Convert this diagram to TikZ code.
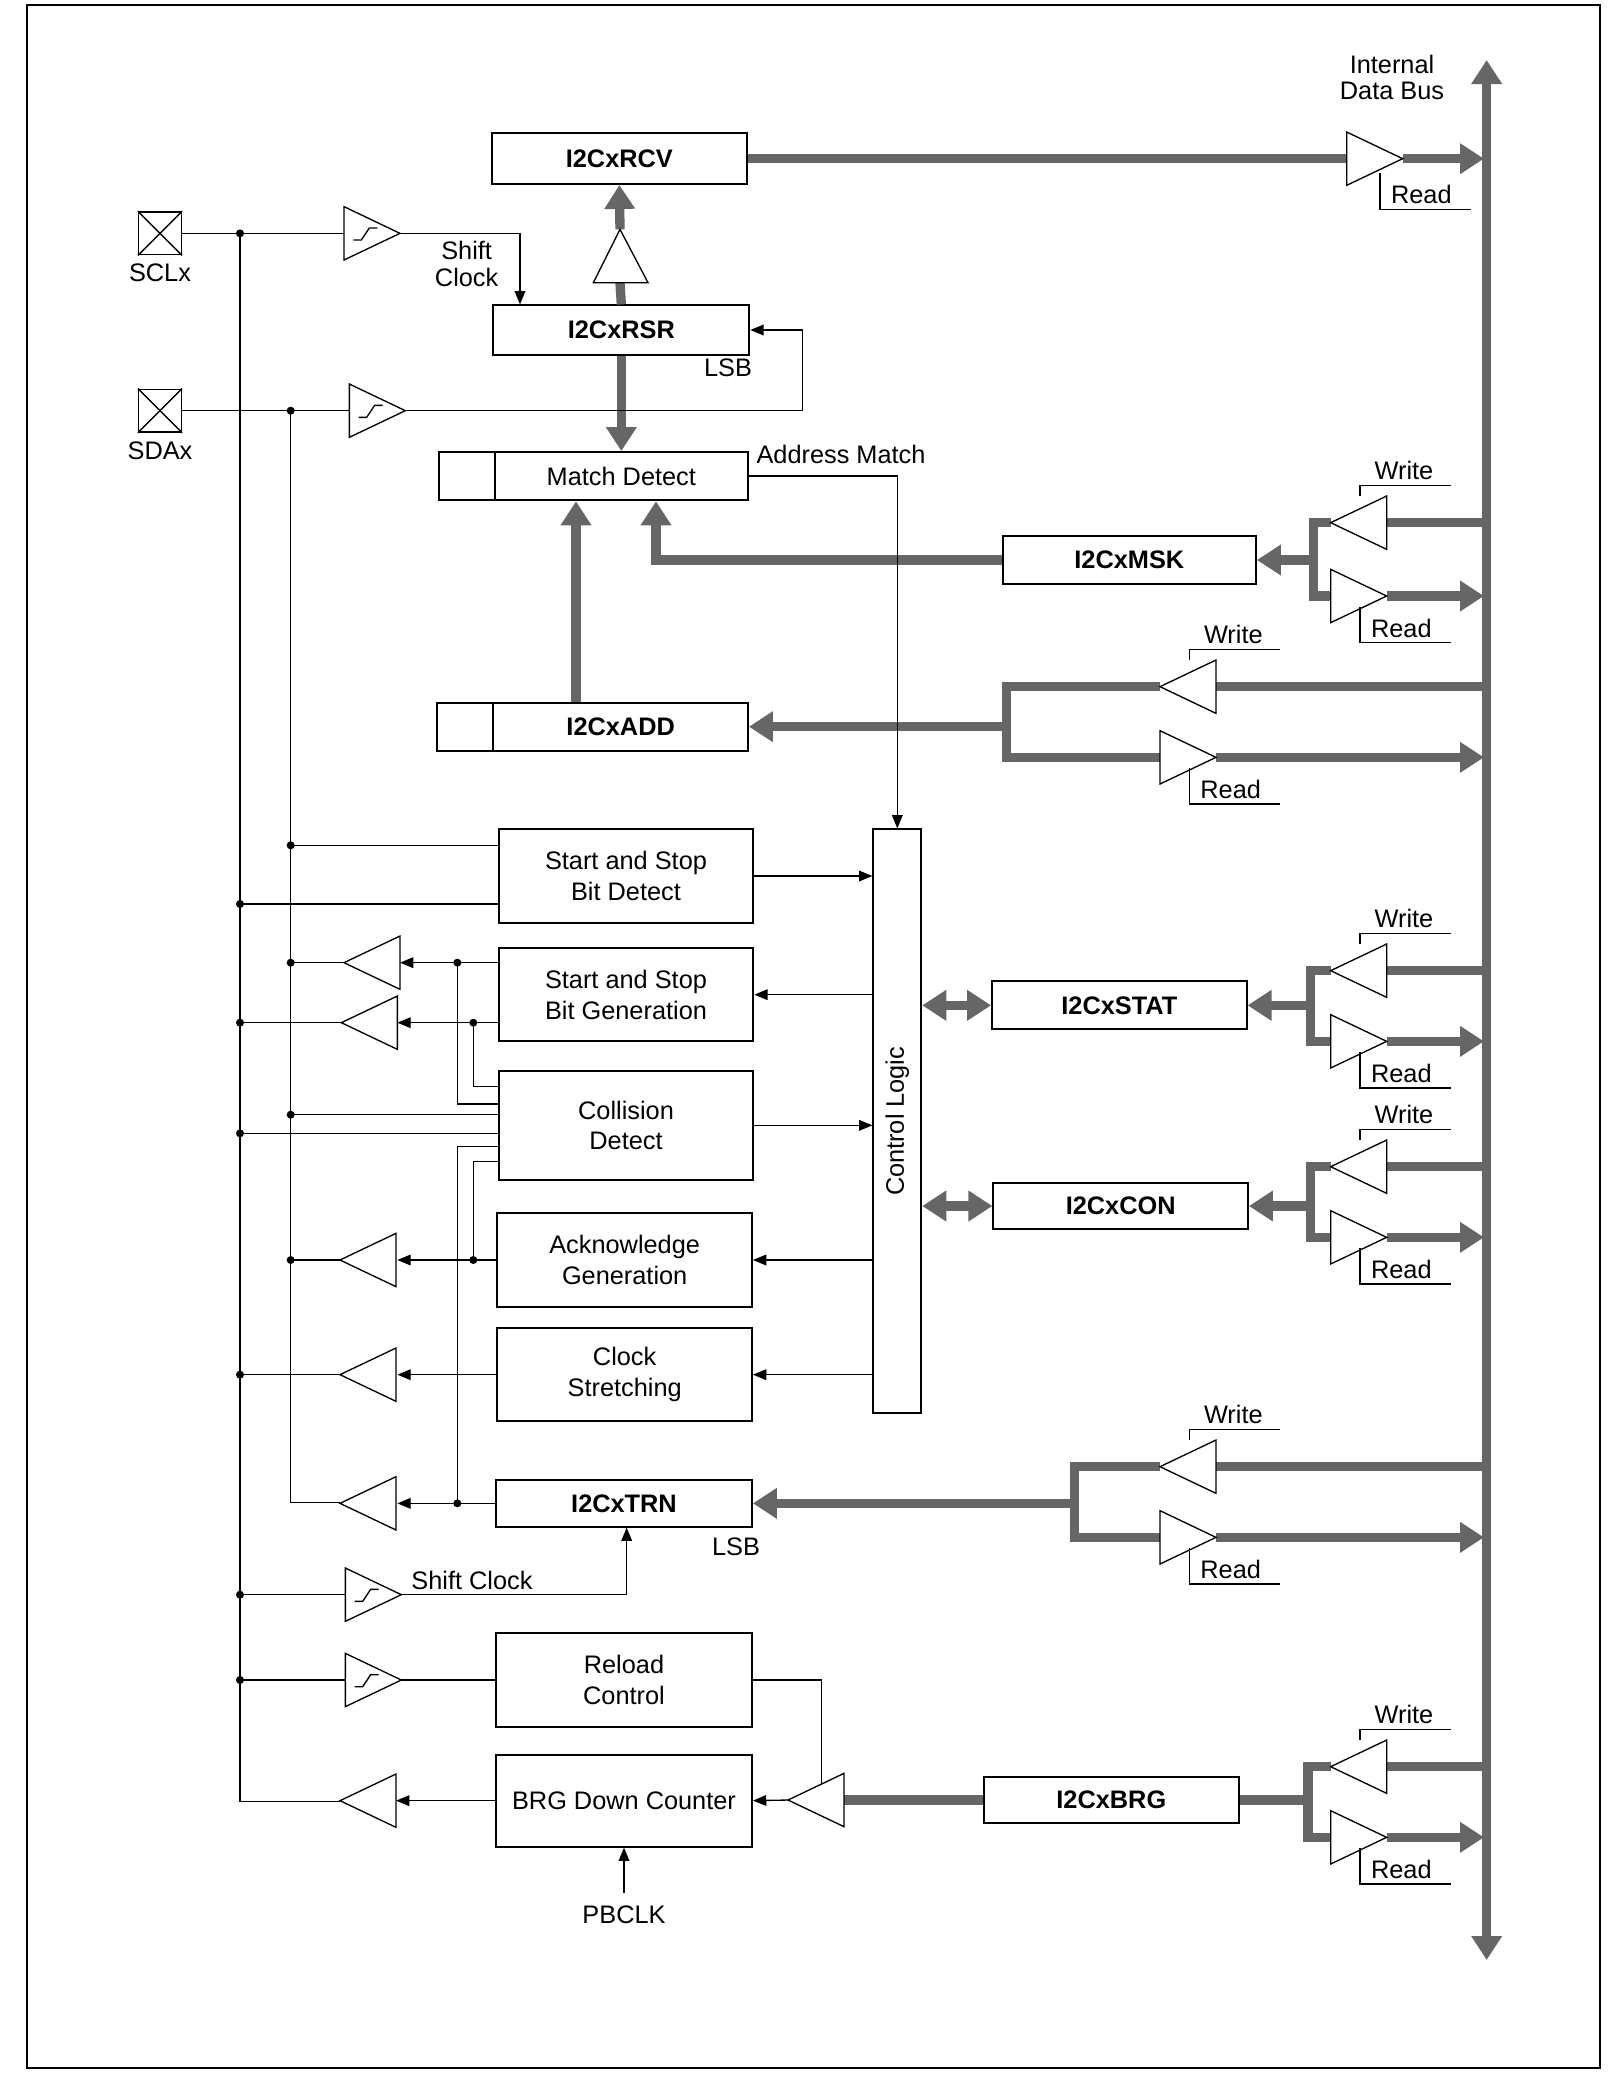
\documentclass[tikz,border=0pt]{standalone}
\usepackage{fontspec}
\setmainfont{Liberation Sans}
\usetikzlibrary{arrows.meta}
\definecolor{busgray}{RGB}{102,102,102}
\tikzset{
	blk/.style={draw, line width=0.7pt, inner sep=0pt, align=center, font=\fontsize{9.5}{11.5}\selectfont},
	reg/.style={blk, font=\fontsize{9.5}{11}\selectfont\bfseries},
	pad/.style={draw, line width=0.6pt, minimum size=16pt, inner sep=0pt},
	bus/.style={draw=busgray, line width=3.5pt},
	bt/.tip={Triangle[length=9pt,width=11pt,color=busgray]},
	sig/.style={line width=0.5pt},
	st/.tip={Triangle[length=5pt,width=4pt]},
	lbl/.style={font=\fontsize{9.5}{10}\selectfont, inner sep=0pt, align=center},
	dot/.style={circle, fill, inner sep=0pt, minimum size=3pt}
}
\newcommand{\bufL}[2]{\draw[sig,fill=white] (#1,#2) -- (#1+42,#2-20) -- (#1+42,#2+20) -- cycle;}
\newcommand{\bufR}[2]{\draw[sig,fill=white] (#1,#2-20) -- (#1+42,#2) -- (#1,#2+20) -- cycle;}
\newcommand{\bufS}[2]{\bufR{#1}{#2}\draw[sig] (#1+7,#2+5) -- (#1+13,#2+5) -- (#1+19,#2-4) -- (#1+25,#2-4);}
\newcommand{\wlab}[2]{\draw[sig] (#1,#2) |- (#1+68,#2-8); \node[lbl] at (#1+33,#2-19) {Write};}
\newcommand{\rlab}[2]{\draw[sig] (#1,#2) |- (#1+68,#2+27); \node[lbl] at (#1+31,#2+16) {Read};}
% write/read pair: bracket x, write y, read y, triangle x
\newcommand{\wrpair}[4]{%
	\draw[bus] (1112,#2) -- (#4+42,#2);
	\draw[bus] (#4,#2) -| (#1,#3) -- (#4,#3);
	\draw[bus,-bt] (#4+42,#3) -- (1113,#3);
	\bufL{#4}{#2} \bufR{#4}{#3}
	\wlab{#4+22}{#2-20} \rlab{#4+22}{#3+8}}
\begin{document}
\begin{tikzpicture}[x=0.5pt,y=-0.5pt]
	\useasboundingbox (0,0) rectangle (1218,1560);
	\draw[line width=0.7pt] (20,4) rectangle (1200,1551);

	% registers and blocks
	\node[reg, minimum width=95.5pt, minimum height=19pt] (rcv) at (464.5,119) {I2CxRCV};
	\node[reg, minimum width=96pt, minimum height=18.5pt] (rsr) at (466,247.5) {I2CxRSR};
	\node[blk, minimum width=95pt, minimum height=18pt] (match) at (466,357) {Match Detect};
	\draw[line width=0.7pt] (329,339) rectangle (371,375);
	\node[reg, minimum width=95.5pt, minimum height=18pt] (add) at (465.5,545) {I2CxADD};
	\draw[line width=0.7pt] (328,527) rectangle (370,563);
	\node[reg, minimum width=95pt, minimum height=18pt] (msk) at (847,420) {I2CxMSK};
	\node[blk, minimum width=18pt, minimum height=219pt] (ctl) at (673,841) {};
	\node[lbl, rotate=90] at (ctl) {Control Logic};
	\node[blk, minimum width=95.5pt, minimum height=35pt] (ssd) at (469.5,657) {Start and Stop\\Bit Detect};
	\node[blk, minimum width=95.5pt, minimum height=35pt] (ssg) at (469.5,746) {Start and Stop\\Bit Generation};
	\node[blk, minimum width=95.5pt, minimum height=41pt] (col) at (469.5,844) {Collision\\Detect};
	\node[blk, minimum width=95.5pt, minimum height=35pt] (ack) at (468.5,945) {Acknowledge\\Generation};
	\node[blk, minimum width=95.5pt, minimum height=35pt] (clk) at (468.5,1031) {Clock\\Stretching};
	\node[reg, minimum width=96pt, minimum height=17.5pt] (trn) at (468,1127.5) {I2CxTRN};
	\node[blk, minimum width=96pt, minimum height=35pt] (rld) at (468,1260) {Reload\\Control};
	\node[blk, minimum width=96pt, minimum height=34.5pt] (brgc) at (468,1350.5) {BRG Down Counter};
	\node[reg, minimum width=95.5pt, minimum height=18pt] (stat) at (839.5,754) {I2CxSTAT};
	\node[reg, minimum width=95.5pt, minimum height=17.5pt] (con) at (840.5,904.5) {I2CxCON};
	\node[reg, minimum width=95.5pt, minimum height=17pt] (brg) at (833.5,1350) {I2CxBRG};

	% pads
	\node[pad] (scl) at (120,175) {};
	\draw[sig] (scl.north west) -- (scl.south east) (scl.north east) -- (scl.south west);
	\node[lbl, below=3pt] at (scl.south) {SCLx};
	\node[pad] (sda) at (120,308) {};
	\draw[sig] (sda.north west) -- (sda.south east) (sda.north east) -- (sda.south west);
	\node[lbl, below=3pt] at (sda.south) {SDAx};

	% internal data bus
	\draw[bus,bt-bt] (1115,1470) -- (1115,45);
	\node[lbl] at (1044,58) {Internal\\Data Bus};

	% receive path
	\draw[bus] (rcv.east) -- (1010,119);
	\draw[bus,-bt] (1052,119) -- (1113,119);
	\bufR{1010}{119}
	\rlab{1035}{130}
	\draw[bus] (rsr.north) -- (465,212);
	\draw[bus,-bt] (465,172) -- (rcv.south);
	\draw[sig,fill=white] (445,212) -- (486,212) -- (465,172) -- cycle;
	\draw[bus,-bt] (rsr.south) -- (match.north -| rsr.south);
	\node[lbl] at (546,276) {LSB};

	% mask and address
	\draw[bus,-bt] (msk.west) -| (492,376);
	\draw[bus,-bt] (add.north -| 432,0) -- (432,376);
	\wrpair{985}{392}{447}{998}
	\draw[bus,-bt] (985,420) -- (msk.east);
	\wrpair{755}{515}{568}{870}
	\draw[bus,-bt] (755,545) -- (add.east);
	\wrpair{983}{728}{781}{998}
	\draw[bus,-bt] (983,754) -- (stat.east);
	\wrpair{983}{875}{928}{998}
	\draw[bus,-bt] (983,904.5) -- (con.east);
	\wrpair{806}{1100}{1153}{870}
	\draw[bus,-bt] (806,1127.5) -- (trn.east);
	\wrpair{981}{1325}{1378}{998}
	\draw[bus] (981,1350) -- (brg.east);
	\draw[bus,bt-bt] (ctl.east |- stat.west) -- (stat.west);
	\draw[bus,bt-bt] (ctl.east |- con.west) -- (con.west);

	% clock and data lines
	\draw[sig] (scl.east) -- (258,175);
	\draw[sig,-st] (300,175) -| (rsr.north -| 390,0);
	\node[lbl] at (350,198) {Shift\\Clock};
	\draw[sig] (sda.east) -- (262,308);
	\draw[sig,-st] (304,308) -- (602,308) |- (rsr.east);
	\draw[sig] (180,175) -- (180,1351) -- (255,1351);
	\draw[sig] (218,308) -- (218,1127) -- (255,1127);
	\node[dot] at (180,175) {}; \node[dot] at (218,308) {};
	\draw[sig,-st] (match.east) -- (673,357) -- (ctl.north);
	\node[lbl, anchor=south west] at (567,348) {Address Match};

	% control logic blocks
	\draw[sig] (218,634) -- (ssd.west |- 0,634);
	\draw[sig] (180,678) -- (ssd.west |- 0,678);
	\draw[sig,-st] (ssd.east) -- (ssd.east -| ctl.west);
	\draw[sig,-st] (ctl.west |- ssg.east) -- (ssg.east);
	\draw[sig,-st] (ssg.west |- 0,722) -- (300,722);
	\draw[sig,-st] (ssg.west |- 0,767) -- (298,767);
	\draw[sig] (258,722) -- (218,722) (256,767) -- (180,767);
	\draw[sig] (343,722) -- (343,828) -- (col.west |- 0,828);
	\draw[sig] (355,767) -- (355,815) -- (col.west |- 0,815);
	\draw[sig] (218,836) -- (col.west |- 0,836);
	\draw[sig] (180,850) -- (col.west |- 0,850);
	\draw[sig] (col.west |- 0,860) -- (343,860) -- (343,1127);
	\draw[sig] (col.west |- 0,871) -- (355,871) -- (355,944);
	\draw[sig,-st] (col.east) -- (col.east -| ctl.west);
	\draw[sig,-st] (ctl.west |- ack.east) -- (ack.east);
	\draw[sig,-st] (ack.west) -- (298,945);
	\draw[sig] (255,945) -- (218,945);
	\draw[sig,-st] (ctl.west |- clk.east) -- (clk.east);
	\draw[sig,-st] (clk.west) -- (298,1031);
	\draw[sig] (255,1031) -- (180,1031);
	\draw[sig,-st] (trn.west) -- (298,1127.5);
	\node[lbl] at (552,1160) {LSB};
	\draw[sig] (180,1196) -- (259,1196);
	\draw[sig,-st] (301,1196) -| (trn.south -| 470,0);
	\node[lbl] at (354,1185) {Shift Clock};
	\draw[sig] (180,1260) -- (259,1260) (301,1260) -- (rld.west);
	\draw[sig,-st] (brgc.west) -- (297,1350.5);
	\draw[bus] (brg.west) -- (633,1350);
	\draw[sig] (rld.east) -| (616,1338);
	\draw[sig,-st] (591,1350) -- (brgc.east);
	\draw[sig,-st] (468,1420) -- (brgc.south);
	\node[lbl] at (468,1436) {PBCLK};
	\foreach \y in {634,722,836,945} \node[dot] at (218,\y) {};
	\foreach \y in {678,767,850,1031,1196,1260} \node[dot] at (180,\y) {};
	\node[dot] at (343,722) {}; \node[dot] at (355,767) {};
	\node[dot] at (355,945) {}; \node[dot] at (343,1127.5) {};

	% buffers
	\bufS{258}{175} \bufS{262}{308} \bufS{259}{1196} \bufS{259}{1260}
	\bufL{258}{722} \bufL{256}{767} \bufL{255}{945} \bufL{255}{1031}
	\bufL{255}{1127.5} \bufL{255}{1350.5} \bufL{591}{1350}
\end{tikzpicture}
\end{document}
